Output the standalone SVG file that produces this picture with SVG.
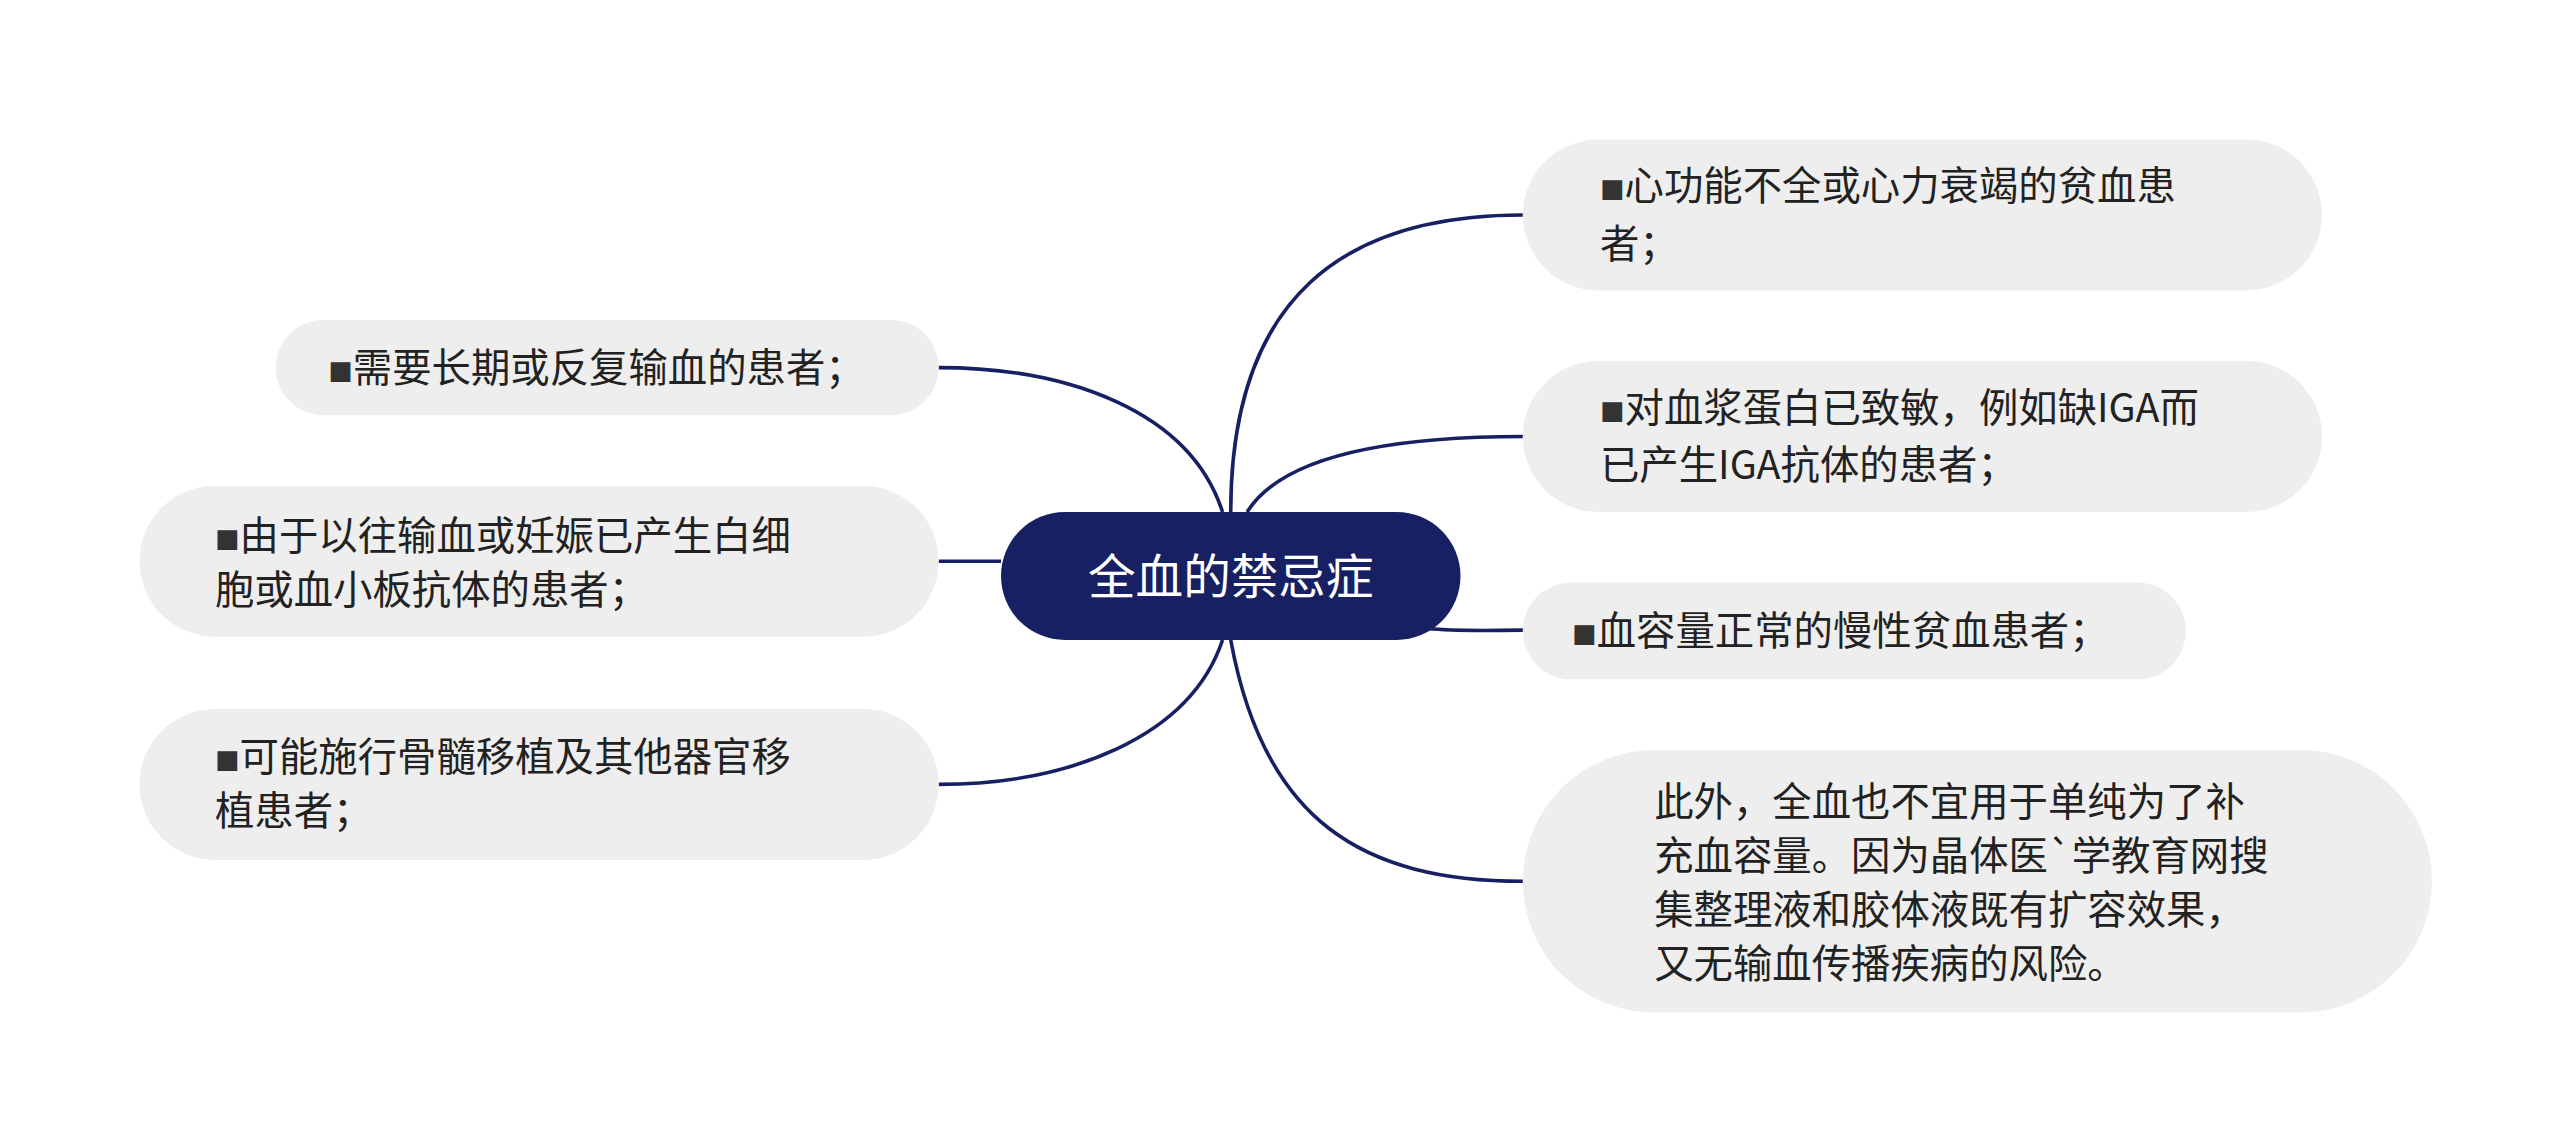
<svg xmlns="http://www.w3.org/2000/svg" width="2560" height="1147" viewBox="0 0 2560 1147">
<style>
.n{fill:#eeeeee}
.t{font-family:"Noto Sans CJK SC","Noto Sans",sans-serif;font-size:24px;fill:#222}
.b{font-size:15px;fill:#333}
.c{fill:none;stroke:#172063;stroke-width:2.2}
</style>
<rect width="2560" height="1147" fill="#fff"/>
<g transform="scale(1.641)">
<g id="connectors">
<path class="c" d="M750,312 C750,180 820,131 928,131"/>
<path class="c" d="M760,312 C780,280 840,266 928,266"/>
<path class="c" d="M870,383 C890,385 910,384 928,384"/>
<path class="c" d="M750,390 C770,500 830,537 928,537"/>
<path class="c" d="M745,312 C725,250 650,224 572,224"/>
<path class="c" d="M610,342 L572,342"/>
<path class="c" d="M745,390 C725,450 650,478 572,478"/>
</g>
<g id="center"><rect x="610" y="312" width="280" height="78" rx="39" fill="#172063"/><text x="750" y="362" text-anchor="middle" font-family="Noto Sans CJK SC,sans-serif" font-size="29" fill="#fff">全血的禁忌症</text></g>
<g id="r1"><rect class="n" x="928" y="85" width="487" height="92" rx="46"/><text class="t" x="975" y="122"><tspan class="b">■</tspan>心功能不全或心力衰竭的贫血患</text><text class="t" x="975" y="157">者；</text></g>
<g id="r2"><rect class="n" x="928" y="220" width="487" height="92" rx="46"/><text class="t" x="975" y="257"><tspan class="b">■</tspan>对血浆蛋白已致敏，例如缺IGA而</text><text class="t" x="975" y="292">已产生IGA抗体的患者；</text></g>
<g id="r3"><rect class="n" x="928" y="355" width="404" height="59" rx="29.5"/><text class="t" x="958" y="393"><tspan class="b">■</tspan>血容量正常的慢性贫血患者；</text></g>
<g id="r4"><rect class="n" x="928" y="457" width="554" height="160" rx="80"/><text class="t" x="1008" y="497">此外，全血也不宜用于单纯为了补</text><text class="t" x="1008" y="530">充血容量。因为晶体医`学教育网搜</text><text class="t" x="1008" y="563">集整理液和胶体液既有扩容效果，</text><text class="t" x="1008" y="596">又无输血传播疾病的风险。</text></g>
<g id="l1"><rect class="n" x="168" y="195" width="404" height="58" rx="29"/><text class="t" x="200" y="233"><tspan class="b">■</tspan>需要长期或反复输血的患者；</text></g>
<g id="l2"><rect class="n" x="85" y="296" width="487" height="92" rx="46"/><text class="t" x="131" y="335"><tspan class="b">■</tspan>由于以往输血或妊娠已产生白细</text><text class="t" x="131" y="368">胞或血小板抗体的患者；</text></g>
<g id="l3"><rect class="n" x="85" y="432" width="487" height="92" rx="46"/><text class="t" x="131" y="470"><tspan class="b">■</tspan>可能施行骨髓移植及其他器官移</text><text class="t" x="131" y="503">植患者；</text></g>
</g>
</svg>
